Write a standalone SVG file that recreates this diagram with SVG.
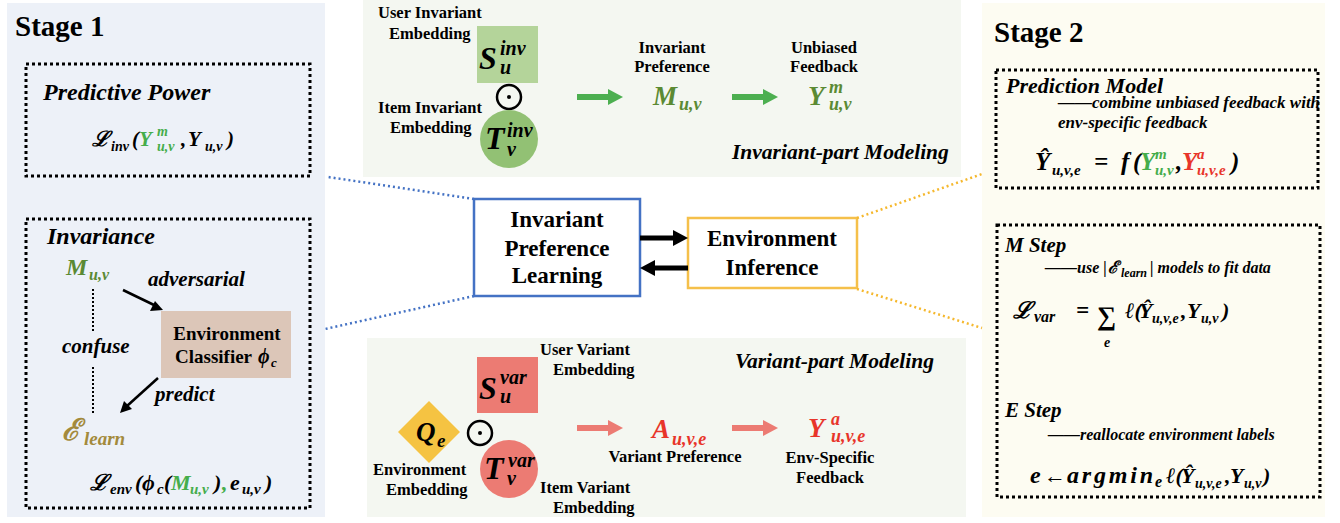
<svg xmlns="http://www.w3.org/2000/svg" width="1340" height="523" viewBox="0 0 1340 523">
<style>
.b{font-family:"Liberation Serif","DejaVu Serif",serif;font-weight:bold;fill:#000}
.bi{font-family:"Liberation Serif","DejaVu Serif",serif;font-weight:bold;font-style:italic;fill:#000}
.c{text-anchor:middle}
.lb{font-size:16.5px}
.dot{fill:none;stroke:#000;stroke-width:3;stroke-dasharray:3 3}
.og{fill:#5b8a33}
.bg{fill:#45ad4b}
.rd{fill:#e8352a}
.el{fill:#a38a3c}
</style>
<rect width="1340" height="523" fill="#fff"/>

<!-- Stage 1 -->
<g id="stage1">
<rect x="7" y="3" width="318" height="514" fill="#edf1f8"/>
<text class="b" x="15" y="36" font-size="29">Stage 1</text>
</g>
<g id="predictive-power">
<rect class="dot" x="26" y="64" width="284" height="112"/>
<text class="bi" x="43" y="100" font-size="24">Predictive Power</text>
<text class="bi" x="92" y="146" font-size="21">ℒ</text>
<text class="bi" x="111" y="151" font-size="14">inv</text>
<text class="bi" x="132" y="146" font-size="21">(</text>
<text class="bi bg" x="139" y="146" font-size="21">Y</text>
<text class="bi bg" x="157" y="136" font-size="14">m</text>
<text class="bi bg" x="157" y="151" font-size="14">u,v</text>
<text class="bi" x="181" y="146" font-size="21">,</text>
<text class="bi" x="188" y="146" font-size="21">Y</text>
<text class="bi" x="205" y="151" font-size="14">u,v</text>
<text class="bi" x="227" y="146" font-size="21">)</text>
</g>
<g id="invariance">
<rect class="dot" x="26" y="219" width="284" height="289"/>
<text class="bi" x="47" y="244" font-size="24">Invariance</text>
<text class="bi og" x="66" y="275" font-size="24">M</text>
<text class="bi og" x="89" y="280" font-size="16">u,v</text>
<text class="bi" x="148" y="286" font-size="21">adversarial</text>
<text class="bi" x="62" y="353" font-size="21">confuse</text>
<text class="bi" x="155" y="401" font-size="21">predict</text>
<text class="bi el" x="62" y="440" font-size="30">ℰ</text>
<text class="bi el" x="84" y="445" font-size="19">learn</text>
<text class="bi" x="90" y="490" font-size="22">ℒ</text>
<text class="bi" x="110" y="494" font-size="15">env</text>
<text class="bi" x="135" y="490" font-size="22">(</text>
<text class="bi" x="142" y="490" font-size="22">ϕ</text>
<text class="bi" x="157" y="494" font-size="15">c</text>
<text class="bi" x="164" y="490" font-size="22">(</text>
<text class="bi bg" x="171" y="490" font-size="22">M</text>
<text class="bi bg" x="190" y="494" font-size="15">u,v</text>
<text class="bi" x="214" y="490" font-size="22">)</text>
<text class="bi bg" x="222" y="490" font-size="22">,</text>
<text class="bi" x="230" y="490" font-size="22">e</text>
<text class="bi" x="242" y="494" font-size="15">u,v</text>
<text class="bi" x="265" y="490" font-size="22">)</text>
</g>
<g id="env-classifier">
<rect x="161" y="311" width="130" height="67" fill="#dcc6b8"/>
<text class="b c" x="227" y="340" font-size="19">Environment</text>
<text class="b" x="175" y="363" font-size="19">Classifier</text>
<text class="bi" x="258" y="363" font-size="20">ϕ</text>
<text class="bi" x="271" y="367" font-size="13">c</text>
</g>

<!-- Invariant-part panel -->
<g id="invariant-panel">
<rect x="363" y="0" width="598" height="177" fill="#f4f7f1"/>
<text class="bi" x="732" y="159" font-size="21.5">Invariant-part Modeling</text>
</g>
<g id="user-inv-emb">
<text class="b lb" x="378" y="18">User Invariant</text>
<text class="b lb" x="389" y="39">Embedding</text>
<rect x="477" y="26" width="61" height="57" fill="#b4d49a"/>
<text class="bi" x="479" y="69" font-size="32">S</text>
<text class="bi" x="500" y="55" font-size="20">inv</text>
<text class="bi" x="500" y="74" font-size="20">u</text>
</g>
<g id="dot-inv">
<circle cx="509" cy="97" r="12" fill="none" stroke="#000" stroke-width="2.5"/>
<circle cx="509" cy="97" r="2" fill="#000"/>
</g>
<g id="item-inv-emb">
<text class="b lb" x="378" y="113">Item Invariant</text>
<text class="b lb" x="390" y="133">Embedding</text>
<circle cx="509" cy="139" r="29" fill="#92c174"/>
<text class="bi" x="485" y="149" font-size="32">T</text>
<text class="bi" x="507" y="137" font-size="20">inv</text>
<text class="bi" x="507" y="156" font-size="20">v</text>
</g>
<g id="invariant-preference">
<text class="b c lb" x="672" y="53">Invariant</text>
<text class="b c lb" x="672" y="72">Preference</text>
<text class="bi og" x="653" y="105" font-size="27">M</text>
<text class="bi og" x="679" y="110" font-size="18">u,v</text>
</g>
<g id="unbiased-feedback">
<text class="b c lb" x="824" y="53">Unbiased</text>
<text class="b c lb" x="824" y="72">Feedback</text>
<text class="bi og" x="808" y="105" font-size="27">Y</text>
<text class="bi og" x="829" y="93" font-size="18">m</text>
<text class="bi og" x="829" y="110" font-size="18">u,v</text>
</g>

<!-- Variant-part panel -->
<g id="variant-panel">
<rect x="367" y="338" width="599" height="179" fill="#f4f7f1"/>
<text class="bi" x="735" y="368" font-size="21.5">Variant-part Modeling</text>
</g>
<g id="user-var-emb">
<rect x="477" y="357" width="61" height="56" fill="#ec7b73"/>
<text class="bi" x="479" y="399" font-size="32">S</text>
<text class="bi" x="500" y="384" font-size="20">var</text>
<text class="bi" x="500" y="403" font-size="20">u</text>
<text class="b lb" x="540" y="355">User Variant</text>
<text class="b lb" x="553" y="375">Embedding</text>
</g>
<g id="env-emb">
<polygon points="429,401 460,432 429,463 398,432" fill="#f5c342"/>
<text class="bi" x="416" y="441" font-size="27">Q</text>
<text class="bi" x="437" y="447" font-size="19">e</text>
<text class="b lb" x="373" y="475">Environment</text>
<text class="b lb" x="386" y="495">Embedding</text>
</g>
<g id="dot-var">
<circle cx="480" cy="433" r="12" fill="none" stroke="#000" stroke-width="2.5"/>
<circle cx="480" cy="433" r="2" fill="#000"/>
</g>
<g id="item-var-emb">
<circle cx="509" cy="469" r="29" fill="#ec7b73"/>
<text class="bi" x="484" y="479" font-size="32">T</text>
<text class="bi" x="508" y="467" font-size="20">var</text>
<text class="bi" x="507" y="485" font-size="20">v</text>
<text class="b lb" x="540" y="493">Item Variant</text>
<text class="b lb" x="553" y="513">Embedding</text>
</g>
<g id="variant-preference">
<text class="bi rd" x="652" y="438" font-size="27">A</text>
<text class="bi rd" x="672" y="445" font-size="18">u,v,e</text>
<text class="b c lb" x="675" y="462">Variant Preference</text>
</g>
<g id="env-specific-feedback">
<text class="bi rd" x="808" y="437" font-size="27">Y</text>
<text class="bi rd" x="831" y="425" font-size="18">a</text>
<text class="bi rd" x="831" y="442" font-size="18">u,v,e</text>
<text class="b c lb" x="830" y="463">Env-Specific</text>
<text class="b c lb" x="830" y="483">Feedback</text>
</g>

<!-- Center -->
<g id="ipl">
<rect x="474" y="199" width="166" height="97" fill="#fff" stroke="#4472c4" stroke-width="2.5"/>
<text class="b c" x="557" y="227" font-size="23">Invariant</text>
<text class="b c" x="557" y="256" font-size="23">Preference</text>
<text class="b c" x="557" y="283" font-size="23">Learning</text>
</g>
<g id="env-inference">
<rect x="688" y="218" width="169" height="70" fill="#fff" stroke="#f5c04a" stroke-width="2.5"/>
<text class="b c" x="772" y="246" font-size="23">Environment</text>
<text class="b c" x="772" y="275" font-size="23">Inference</text>
</g>

<!-- Stage 2 -->
<g id="stage2">
<rect x="982" y="3" width="343" height="514" fill="#fdfcf2"/>
<text class="b" x="994" y="42" font-size="29">Stage 2</text>
</g>
<g id="prediction-model">
<rect class="dot" x="996" y="70" width="322" height="118"/>
<text class="bi" x="1006" y="93" font-size="22">Prediction Model</text>
<text class="bi" x="1058" y="108" font-size="17">——combine unbiased feedback with</text>
<text class="bi" x="1058" y="128" font-size="17">env-specific feedback</text>
<text class="bi" x="1035" y="170" font-size="25">Ŷ</text>
<text class="bi" x="1052" y="175" font-size="15">u,v,e</text>
<text class="bi" x="1094" y="170" font-size="25">=</text>
<text class="bi" x="1121" y="170" font-size="25">f</text>
<text class="bi" x="1133" y="170" font-size="25">(</text>
<text class="bi bg" x="1140" y="170" font-size="25">Y</text>
<text class="bi bg" x="1155" y="159" font-size="15">m</text>
<text class="bi bg" x="1155" y="175" font-size="15">u,v</text>
<text class="bi" x="1176" y="170" font-size="25">,</text>
<text class="bi rd" x="1182" y="170" font-size="25">Y</text>
<text class="bi rd" x="1197" y="159" font-size="15">a</text>
<text class="bi rd" x="1197" y="175" font-size="15">u,v,e</text>
<text class="bi" x="1231" y="170" font-size="25">)</text>
</g>
<g id="em-steps">
<rect class="dot" x="997" y="225" width="323" height="272"/>
<text class="bi" x="1005" y="252" font-size="21">M Step</text>
<text class="bi" x="1045" y="273" font-size="16">——use |</text>
<text class="bi" x="1108" y="273" font-size="17">ℰ</text>
<text class="bi" x="1121" y="277" font-size="12">learn</text>
<text class="bi" x="1150" y="273" font-size="16">| models to fit data</text>
<text class="bi" x="1013" y="318" font-size="23">ℒ</text>
<text class="bi" x="1034" y="322" font-size="16">var</text>
<text class="bi" x="1076" y="318" font-size="23">=</text>
<text class="b" x="1097" y="325" font-size="27">∑</text>
<text class="bi" x="1104" y="347" font-size="14">e</text>
<text class="bi" x="1125" y="318" font-size="22">ℓ(</text>
<text class="bi" x="1139" y="318" font-size="22">Ŷ</text>
<text class="bi" x="1152" y="323" font-size="14">u,v,e</text>
<text class="bi" x="1181" y="318" font-size="22">,</text>
<text class="bi" x="1187" y="318" font-size="22">Y</text>
<text class="bi" x="1201" y="323" font-size="14">u,v</text>
<text class="bi" x="1222" y="318" font-size="22">)</text>
<text class="bi" x="1005" y="417" font-size="21">E Step</text>
<text class="bi" x="1048" y="440" font-size="16">——reallocate environment labels</text>
<text class="bi" x="1030" y="483" font-size="24">e</text>
<text class="bi" x="1044" y="483" font-size="22">←</text>
<text class="bi" x="1067" y="483" font-size="24" textLength="86" lengthAdjust="spacing">argmin</text>
<text class="bi" x="1155" y="487" font-size="16">e</text>
<text class="bi" x="1166" y="483" font-size="22">ℓ(</text>
<text class="bi" x="1181" y="483" font-size="22">Ŷ</text>
<text class="bi" x="1195" y="488" font-size="14">u,v,e</text>
<text class="bi" x="1225" y="483" font-size="22">,</text>
<text class="bi" x="1230" y="483" font-size="22">Y</text>
<text class="bi" x="1244" y="488" font-size="14">u,v</text>
<text class="bi" x="1263" y="483" font-size="22">)</text>
</g>

<!-- Connectors -->
<g id="connectors">
<g fill="none" stroke-width="2.5" stroke-dasharray="2 3">
<line x1="474" y1="199" x2="328" y2="177" stroke="#4472c4"/>
<line x1="474" y1="296" x2="325" y2="329" stroke="#4472c4"/>
<line x1="857" y1="218" x2="982" y2="174" stroke="#f5b82e"/>
<line x1="857" y1="289" x2="982" y2="328" stroke="#f5b82e"/>
</g>
<g stroke="#000" stroke-width="2" stroke-dasharray="2 2">
<line x1="93" y1="289" x2="93" y2="333"/>
<line x1="93" y1="367" x2="93" y2="413"/>
</g>
<line x1="123" y1="290" x2="154" y2="305" stroke="#000" stroke-width="2.5"/>
<polygon points="163,310 150,311 155,301" fill="#000"/>
<line x1="158" y1="378" x2="127" y2="406" stroke="#000" stroke-width="2.5"/>
<polygon points="120,413 124,401 132,409" fill="#000"/>
<line x1="640" y1="238" x2="674" y2="238" stroke="#000" stroke-width="5"/>
<polygon points="688,238 673,230 673,246" fill="#000"/>
<line x1="688" y1="268" x2="654" y2="268" stroke="#000" stroke-width="5"/>
<polygon points="640,268 655,260 655,276" fill="#000"/>
<line x1="577" y1="97" x2="609" y2="97" stroke="#4caf50" stroke-width="6"/>
<polygon points="623,97 608,89 608,105" fill="#4caf50"/>
<line x1="732" y1="97" x2="764" y2="97" stroke="#4caf50" stroke-width="6"/>
<polygon points="778,97 763,89 763,105" fill="#4caf50"/>
<line x1="577" y1="428" x2="609" y2="428" stroke="#ec7b73" stroke-width="6"/>
<polygon points="623,428 608,420 608,436" fill="#ec7b73"/>
<line x1="732" y1="428" x2="764" y2="428" stroke="#ec7b73" stroke-width="6"/>
<polygon points="778,428 763,420 763,436" fill="#ec7b73"/>
</g>
</svg>
